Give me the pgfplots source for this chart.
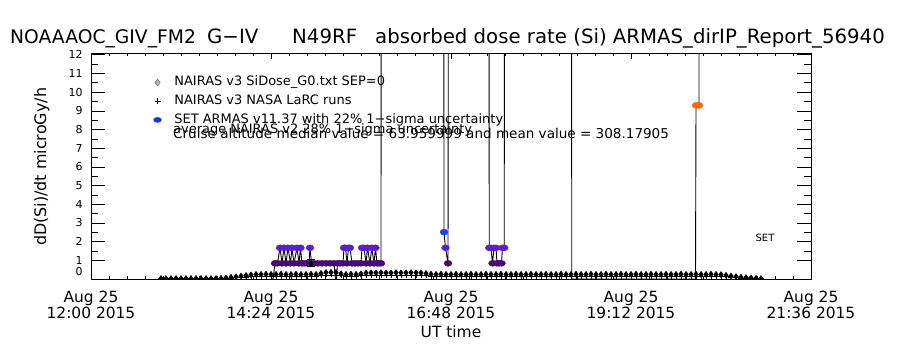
\documentclass[border=0pt]{standalone}
\usepackage{pgfplots}
\pgfplotsset{compat=1.18}
\usepackage{pgfplotstable}
\usepackage{fontspec}
\setmainfont{DejaVu Sans}
\definecolor{armP}{RGB}{75,10,115}
\definecolor{armV}{RGB}{90,30,210}
\definecolor{armB}{RGB}{25,65,245}
\definecolor{armO}{RGB}{255,105,0}
\definecolor{legB}{RGB}{20,50,240}

\pgfplotstableread{
m d p
56 0.03 0.02
60 0.03 0.02
64 0.03 0.02
68 0.03 0.02
72 0.03 0.02
76 0.03 0.02
80 0.03 0.02
84 0.03 0.02
88 0.03 0.02
92 0.03 0.02
96 0.03 0.02
100 0.03 0.02
104 0.04 0.03
108 0.06 0.04
112 0.09 0.05
116 0.12 0.07
120 0.16 0.09
124 0.19 0.11
128 0.22 0.13
132 0.25 0.15
136 0.25 0.15
140 0.26 0.16
144 0.25 0.15
148 0.25 0.15
152 0.26 0.16
156 0.25 0.15
160 0.25 0.15
164 0.26 0.16
168 0.25 0.15
172 0.25 0.15
176 0.26 0.16
180 0.25 0.15
184 0.30 0.18
188 0.35 0.22
192 0.36 0.22
196 0.35 0.22
200 0.28 0.17
204 0.25 0.15
208 0.26 0.16
212 0.25 0.15
216 0.28 0.17
220 0.32 0.20
224 0.33 0.21
228 0.33 0.21
232 0.34 0.21
236 0.33 0.21
240 0.33 0.21
244 0.34 0.21
248 0.33 0.21
252 0.33 0.21
256 0.34 0.21
260 0.33 0.21
264 0.33 0.21
268 0.30 0.19
272 0.26 0.16
276 0.25 0.15
280 0.26 0.16
284 0.25 0.15
288 0.25 0.15
292 0.26 0.16
296 0.25 0.15
300 0.25 0.15
304 0.26 0.16
308 0.25 0.15
312 0.25 0.15
316 0.26 0.16
320 0.25 0.15
324 0.25 0.15
328 0.26 0.16
332 0.25 0.15
336 0.25 0.15
340 0.26 0.16
344 0.25 0.15
348 0.25 0.15
352 0.26 0.16
356 0.25 0.15
360 0.25 0.15
364 0.26 0.16
368 0.25 0.15
372 0.25 0.15
376 0.26 0.16
380 0.25 0.15
384 0.25 0.15
388 0.26 0.16
392 0.25 0.15
396 0.25 0.15
400 0.26 0.16
404 0.25 0.15
408 0.25 0.15
412 0.26 0.16
416 0.25 0.15
420 0.25 0.15
424 0.26 0.16
428 0.25 0.15
432 0.25 0.15
436 0.26 0.16
440 0.25 0.15
444 0.25 0.15
448 0.26 0.16
452 0.25 0.15
456 0.25 0.15
460 0.26 0.16
464 0.25 0.15
468 0.25 0.15
472 0.26 0.16
476 0.25 0.15
480 0.25 0.15
484 0.26 0.16
488 0.25 0.15
492 0.25 0.15
496 0.26 0.16
500 0.25 0.15
504 0.24 0.14
508 0.20 0.12
512 0.16 0.10
516 0.13 0.08
520 0.10 0.06
524 0.08 0.05
528 0.06 0.04
532 0.04 0.03
536 0.03 0.02
}\nairas

\pgfplotstableread{
m y c
144.0 0 z
145.6 0 z
147.2 0.84 p
149.2 0.84 p
151.2 1.67 v
152.8 0.84 p
154.4 1.67 v
156.0 0.84 p
157.6 1.67 v
159.6 0.84 p
160.8 1.67 v
162.4 0.84 p
164.8 1.67 v
166.4 0.84 p
167.6 1.67 v
168.8 0.84 p
170.8 0.84 p
172.8 0.84 p
174.4 0.84 p
175.2 1.67 v
176.4 0.84 p
178.4 0.84 p
181.6 0.84 p
184.8 0.84 p
188.0 0.84 p
191.2 0.84 p
194.4 0.84 p
195.6 0 z
196.4 0 z
197.2 0.84 p
199.2 0.84 p
201.6 0.84 p
202.4 1.67 v
203.6 1.67 v
204.8 0.84 p
206.0 1.67 v
207.2 1.67 v
208.8 0.84 p
211.2 0.84 p
213.6 0.84 p
216.0 0.84 p
216.8 1.67 v
218.4 1.67 v
220.0 0.84 p
221.2 1.67 v
223.2 0.84 p
224.6 1.67 v
226.4 0.84 p
227.6 1.67 v
228.8 0.84 p
230.4 0.84 p
232.0 0.84 p
232.4 50 h
282.0 50 h
282.4 2.51 b
283.6 1.67 v
285.6 0.84 p
286.6 50 h
318.0 50 h
318.6 1.67 v
320.0 1.67 v
321.2 0.84 p
322.4 1.67 v
324.0 1.67 v
324.8 0.84 p
326.4 0.84 p
328.4 0.84 p
329.2 1.67 v
330.6 1.67 v
331.0 50 h
384.2 50 h
384.6 0 z
483.6 0 z
484.0 9.3 o
486.4 9.3 o
486.6 50 h
}\armas

\begin{document}
\begin{tikzpicture}
\useasboundingbox (-91bp,-71bp) rectangle (809bp,279bp);
\begin{axis}[
  at={(0bp,0bp)}, anchor=south west,
  scale only axis, width=720bp, height=226bp,
  xmin=0, xmax=576, ymin=0, ymax=12.1,
  xtick={0,144,288,432,576},
  xticklabels={Aug 25\\12:00 2015, Aug 25\\14:24 2015, Aug 25\\16:48 2015, Aug 25\\19:12 2015, Aug 25\\21:36 2015},
  minor x tick num=9,
  ytick={1,2,3,4,5,6,7,8,9,10,11,12},
  extra y ticks={0},
  extra y tick style={yticklabel style={yshift=7bp}},
  minor y tick num=1,
  tick pos=both, tick align=inside,
  major tick length=14bp, minor tick length=7bp,
  x tick style={/pgfplots/major tick length=6bp, /pgfplots/minor tick length=3bp},
  axis line style={black, line width=0.8bp},
  tick style={black, line width=0.8bp},
  /pgf/number format/assume math mode=true,
  yticklabel style={font=\fontsize{11}{11}\selectfont, xshift=-5bp},
  xticklabel style={font=\fontsize{15.5}{13.5}\selectfont, align=center, yshift=-9bp},
  ylabel={dD(Si)/dt microGy/h},
  every axis y label/.style={at={(axis description cs:-0.0686,0.496)}, rotate=90, anchor=center, font=\fontsize{16}{16}\selectfont},
  xlabel={UT time},
  every axis x label/.style={at={(axis description cs:0.5,0)}, anchor=base, yshift=-58bp, font=\fontsize{15.5}{15.5}\selectfont},
  clip marker paths=true,
  legend style={at={(rel axis cs:0.0867,0.898)}, anchor=north west, draw=none, fill=none, inner sep=0pt,
    font=\fontsize{13}{13}\selectfont,
    nodes={inner sep=0pt, text height=9.5bp, text depth=3bp}, row sep=6.2bp},
  legend cell align=left,
]
\addlegendimage{only marks, mark=diamond*, mark size=3.5bp, mark options={fill=gray!60, draw=gray!80!black}}
\addlegendentry{\hspace{13bp}NAIRAS v3 SiDose\_G0.txt SEP=0}
\addlegendimage{only marks, mark=+, mark size=3bp, black}
\addlegendentry{\hspace{13bp}NAIRAS v3 NASA LaRC runs}
\addlegendimage{only marks, mark=*, mark size=3bp, legB, mark options={xscale=1.3, yscale=0.85}}
\addlegendentry{\hspace{13bp}SET ARMAS v11.37 with 22\% 1−sigma uncertainty}

\addplot[forget plot, only marks, mark=diamond*, mark size=3bp, black] table[x=m,y=d] {\nairas};
\addplot[forget plot, only marks, mark=+, mark size=2.6bp, black, line width=0.7bp] table[x=m,y=p] {\nairas};

\addplot[forget plot, black, line width=0.9bp] table[x=m,y=y] {\armas};
\addplot[forget plot, scatter, only marks, mark=*, mark size=3bp,
  mark options={xscale=1.3},
  scatter src=explicit symbolic, restrict y to domain=0.5:20,
  scatter/classes={p={mark=*,armP}, v={mark=*,armV}, b={mark=*,armB}, o={mark=*,armO}, z={mark=none}, h={mark=none}}]
  table[x=m,y=y,meta=c] {\armas};

\addplot[forget plot, only marks, mark=none, black,
  error bars/.cd, y dir=both, y explicit,
  error bar style={black, line width=0.8bp},
  error mark options={rotate=90, mark size=4bp, black, line width=0.8bp}]
  coordinates {(176,0.84) +- (0,0.19)};
\end{axis}
\node[anchor=base west, font=\fontsize{13}{13}\selectfont, inner sep=0pt] at (82bp,145bp) {average NAIRAS v2 28\% 1−sigma uncertainty};
\node[anchor=base west, font=\fontsize{13.6}{13.6}\selectfont, inner sep=0pt] at (82bp,140.7bp) {Cruise altitude median value = 63.959999 and mean value = 308.17905};
\node[anchor=center, font=\fontsize{10}{10}\selectfont, inner sep=0pt] at (674bp,41bp) {SET};
\node[anchor=base west, font=\fontsize{18.8}{18.8}\selectfont, inner sep=0pt] at (-81bp,235bp) {NOAAAOC\_GIV\_FM2};
\node[anchor=base west, font=\fontsize{19.8}{19.8}\selectfont, inner sep=0pt] at (116bp,235bp) {G−IV};
\node[anchor=base west, font=\fontsize{19.8}{19.8}\selectfont, inner sep=0pt] at (201bp,235bp) {N49RF};
\node[anchor=base west, font=\fontsize{19.8}{19.8}\selectfont, inner sep=0pt] at (284bp,235bp) {absorbed dose rate (Si) ARMAS\_dirIP\_Report\_56940};
\end{tikzpicture}
\end{document}
